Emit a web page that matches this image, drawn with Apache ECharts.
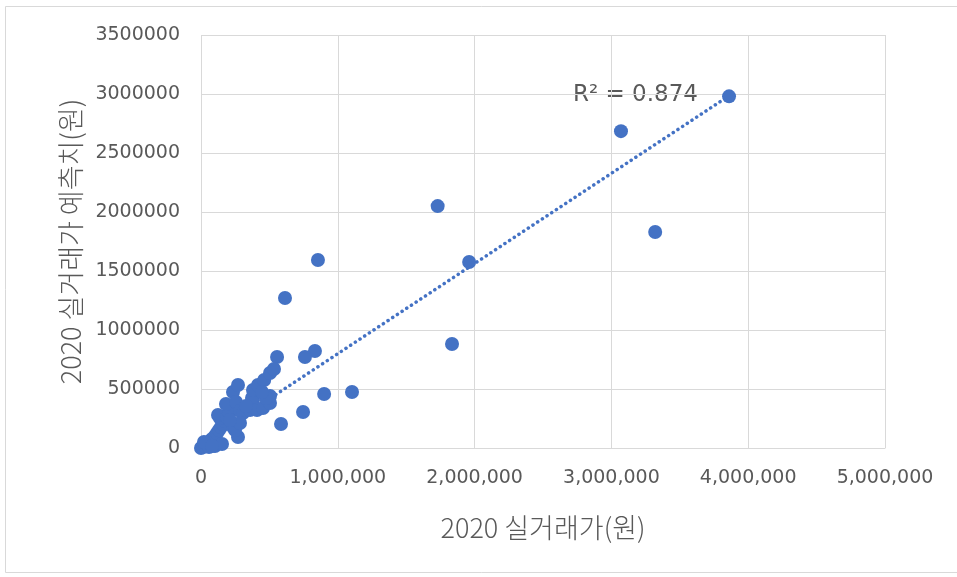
<!DOCTYPE html>
<html><head><meta charset="utf-8">
<script src="https://cdn.jsdelivr.net/npm/echarts/dist/echarts.min.js"></script>
<style>html,body{margin:0;padding:0;background:#fff}#c{width:957px;height:577px}</style>
</head><body><div id="c"></div>
<script>
// 2020 실거래가 (actual price, 원)
const actualPrice = [
  3860000, 3070000, 3320000, 1730000, 1960000, 1835000, 855000, 614000,
  1104000, 900000, 746000, 585000, 833000, 760000, 556000,
  0, 14600, 29200, 43900, 58500, 65800, 80400, 95000, 102300, 117000,
  131600, 146200, 160800, 175400, 138900, 124300, 190100, 204700, 182700,
  233900, 270500, 255800, 285100, 307000, 233900, 270500, 248500, 285100,
  358200, 380100, 372800, 380100, 416700, 462000, 504400, 533600, 409400,
  453200, 504400, 504400, 475200, 102300, 153500, 212000, 328900, 445900,
  21900, 80400
];
// 2020 실거래가 예측치 (predicted price, 원)
const predictedPrice = [
  2980000, 2685000, 1830000, 2050000, 1576000, 881000, 1593000, 1271000,
  475000, 458000, 305000, 203000, 822000, 771000, 771000,
  0, 8500, 17000, 33900, 8500, 59300, 76300, 42400, 101700, 127100,
  152500, 178000, 203400, 228800, 254200, 279700, 262700, 305100, 372900,
  474600, 533900, 389800, 313600, 296600, 178000, 93200, 152500, 211900,
  322100, 406800, 423700, 491500, 533900, 576300, 635600, 669500, 322100,
  339000, 381400, 440700, 423700, 17000, 33900, 237300, 355900, 474600,
  50800, 17000
];
// linear trendline end points
const trendX = [0, 3860000];
const trendY = [35000, 2985000];
const xTicks = [0, 1000000, 2000000, 3000000, 4000000, 5000000];
const yTicks = [0, 500000, 1000000, 1500000, 2000000, 2500000, 3000000, 3500000];
const r2Text = 'R² = 0.874';

const points = actualPrice.map((x, i) => [x, predictedPrice[i]]);
const trend = trendX.map((x, i) => [x, trendY[i]]);

const chart = echarts.init(document.getElementById('c'), null, {renderer: 'canvas'});
const grid = '#d9d9d9', txt = '#595959';
const tickFont = 'DejaVu Sans';
chart.setOption({
  animation: false,
  backgroundColor: '#fff',
  grid: {left: 201, right: 72, top: 35, bottom: 129},
  xAxis: {
    type: 'value', min: xTicks[0], max: xTicks[xTicks.length - 1], interval: 1000000,
    name: '2020 실거래가(원)', nameLocation: 'middle', nameGap: 66,
    nameTextStyle: {color: txt, fontSize: 27, fontFamily: 'Noto Sans CJK KR', fontWeight: 300},
    axisLine: {show: true, lineStyle: {color: grid}},
    axisTick: {show: false},
    axisLabel: {color: txt, fontSize: 19, fontFamily: tickFont, margin: 21,
      formatter: v => v.toLocaleString('en-US')},
    splitLine: {show: true, lineStyle: {color: grid}}
  },
  yAxis: {
    type: 'value', min: yTicks[0], max: yTicks[yTicks.length - 1], interval: 500000,
    name: '2020 실거래가 예측치(원)', nameLocation: 'middle', nameGap: 117, nameRotate: 90,
    nameTextStyle: {color: txt, fontSize: 27, fontFamily: 'Noto Sans CJK KR', fontWeight: 300},
    axisLine: {show: false}, axisTick: {show: false},
    axisLabel: {color: txt, fontSize: 19, fontFamily: tickFont, margin: 21,
      formatter: v => String(v)},
    splitLine: {show: true, lineStyle: {color: grid}}
  },
  series: [
    {type: 'line', data: trend, symbol: 'none', z: 1,
      lineStyle: {color: '#4472C4', width: 3.5, type: [0.1, 5.5], cap: 'round'}},
    {type: 'scatter', data: points, symbolSize: 14, z: 2,
      itemStyle: {color: '#4472C4', opacity: 1}}
  ],
  graphic: [
    {type: 'rect', shape: {x: 5.5, y: 6.5, width: 960, height: 566}, silent: true,
      style: {fill: 'none', stroke: '#d9d9d9', lineWidth: 1}, z: -10},
    {type: 'text', left: 573, top: 84, silent: true,
      style: {text: r2Text, fill: txt, fontSize: 23, fontFamily: tickFont}}
  ]
});
</script></body></html>
